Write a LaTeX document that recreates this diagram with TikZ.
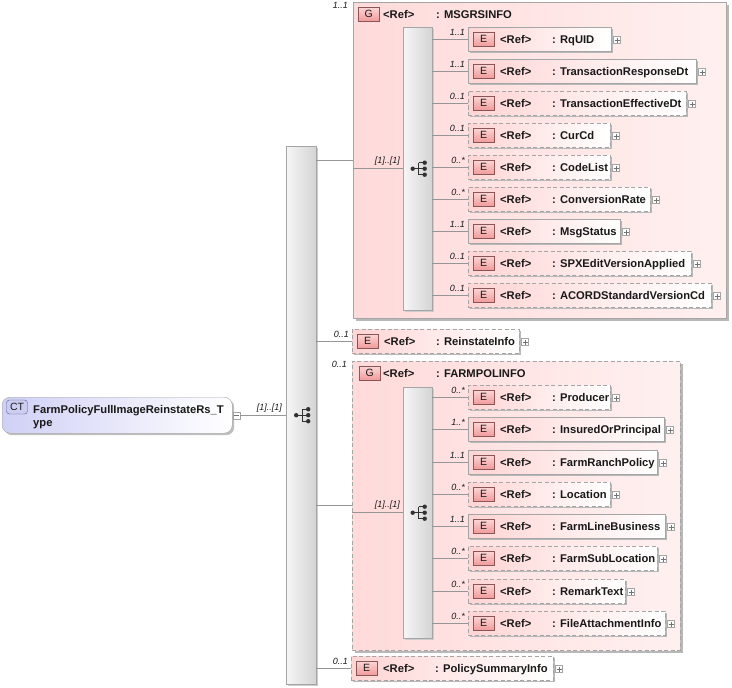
\documentclass[tikz,border=0pt]{standalone}
\usepackage{fontspec}
\setmainfont{Liberation Sans}
\usetikzlibrary{shadows}
\definecolor{pinkL}{RGB}{255,212,212}
\definecolor{pinkG}{RGB}{255,218,218}
\definecolor{pinkGR}{RGB}{255,240,240}
\definecolor{badgeT}{RGB}{253,215,215}
\definecolor{badgeB}{RGB}{240,155,155}
\definecolor{badgeD}{RGB}{140,85,85}
\definecolor{lineC}{RGB}{150,150,150}
\definecolor{boxC}{RGB}{165,165,165}
\definecolor{txtC}{RGB}{25,25,25}
\definecolor{ctL}{RGB}{208,208,246}
\definecolor{ctB}{RGB}{90,90,140}
\definecolor{ctBadge}{RGB}{205,205,242}
\definecolor{barL}{RGB}{246,246,246}
\definecolor{barR}{RGB}{212,212,212}
\definecolor{iconC}{RGB}{50,50,50}
\tikzset{
  every node/.style={font=\fontsize{11.2}{13}\selectfont\bfseries, text=txtC},
  txt/.style={inner sep=0, anchor=base west},
  elembox/.style={draw=boxC, left color=pinkL, right color=white, minimum height=24, inner sep=0,
    drop shadow={shadow xshift=2pt, shadow yshift=-2pt, fill=black!28, opacity=1}},
  grpbox/.style={draw=boxC, left color=pinkG, right color=pinkGR, inner sep=0,
    drop shadow={shadow xshift=3pt, shadow yshift=-3pt, fill=black!28, opacity=1}},
  optline/.style={dash pattern=on 4pt off 2.5pt},
  ebadge/.style={draw=badgeD, top color=badgeT, bottom color=badgeB, minimum width=21, minimum height=14,
    inner sep=0, font=\fontsize{10.5}{12}\selectfont, anchor=west},
  ctbox/.style={draw=boxC, left color=ctL, right color=white, rounded corners=8, inner sep=0,
    drop shadow={shadow xshift=2pt, shadow yshift=-2pt, fill=black!25, opacity=1}},
  ctbadge/.style={draw=ctB, fill=ctBadge, rounded corners=3, minimum width=21, minimum height=14,
    inner sep=0, font=\fontsize{10.5}{12}\selectfont},
  seqbar/.style={draw=boxC, left color=barL, right color=barR, inner sep=0, anchor=north west,
    drop shadow={shadow xshift=2pt, shadow yshift=-2pt, fill=black!20, opacity=1}},
  conn/.style={draw=lineC, line width=0.8pt},
  cardlbl/.style={font=\fontsize{9}{10}\selectfont\itshape, inner sep=0, anchor=south east},
  plusbox/.style={draw=boxC, fill=white, minimum size=7, inner sep=0, anchor=west},
  plusmark/.style={draw=black!55, line width=0.5pt},
  icon/.style={draw=iconC, line width=1pt},
}
% id, left, right, cy, name, line style, card, parent sequence
\newcommand{\elemrow}[8]{%
  \node[elembox,#6,minimum width={#3-#2},anchor=west] (#1) at (#2,#4) {};
  \draw[conn] (#8.east |- #1.west) -- (#1.west);
  \node[ebadge] (#1-b) at ([xshift=5pt]#1.west) {E};
  \node[txt] (#1-r) at ([xshift=32pt,yshift=-4pt]#1.west) {<Ref>};
  \node[txt] (#1-n) at ([xshift=84pt,yshift=-4pt]#1.west) {: #5};
  \node[plusbox] (#1-p) at ([xshift=2pt,yshift=-1pt]#1.east) {};
  \draw[plusmark] ([xshift=-2.5pt]#1-p.center) -- ([xshift=2.5pt]#1-p.center)
                  ([yshift=-2.5pt]#1-p.center) -- ([yshift=2.5pt]#1-p.center);
  \node[cardlbl] (#1-c) at ([xshift=-3pt,yshift=3pt]#1.west) {#7};
}
\newcommand{\seqicon}[1]{%
  \draw[icon] ([xshift=-5pt]#1.center) -- ([xshift=1pt]#1.center)
    ([xshift=1pt,yshift=6pt]#1.center) -- ([xshift=1pt,yshift=-6pt]#1.center)
    ([xshift=1pt,yshift=6pt]#1.center) -- ([xshift=7pt,yshift=6pt]#1.center)
    ([xshift=1pt]#1.center) -- ([xshift=7pt]#1.center)
    ([xshift=1pt,yshift=-6pt]#1.center) -- ([xshift=7pt,yshift=-6pt]#1.center);
  \fill[iconC] ([xshift=-5pt]#1.center) circle (2.2pt)
    ([xshift=7pt,yshift=6pt]#1.center) circle (2.2pt)
    ([xshift=7pt]#1.center) circle (2.2pt)
    ([xshift=7pt,yshift=-6pt]#1.center) circle (2.2pt);
}
\begin{document}
\begin{tikzpicture}[x=1pt,y=-1pt]
\useasboundingbox (0,0) rectangle (732,688);

% groups
\node[grpbox, minimum width=373, minimum height=316, anchor=north west] (g1) at (353,2) {};
\node[grpbox, optline, minimum width=328, minimum height=289, anchor=north west] (g2) at (352,361) {};

% main sequence and CT
\node[seqbar, minimum width=30, minimum height=538] (main) at (286,146) {};
\seqicon{main}
\node[ctbox, minimum width=230, minimum height=36, anchor=north west] (ct) at (2,397) {};
\node[ctbadge] (ctb) at (17,407) {CT};
\node[txt] (ctt1) at (33,413) {FarmPolicyFullImageReinstateRs\_T};
\node[txt] (ctt2) at (33,426) {ype};
\node[plusbox] (ctm) at (233,415.5) {};
\draw[plusmark] ([xshift=-2.5pt]ctm.center) -- ([xshift=2.5pt]ctm.center);
\draw[conn] (ctm.east) -- (main.west |- ctm.east);
\node[cardlbl] (mainc) at ([xshift=-4pt,yshift=3pt]main.west) {[1]..[1]};

% group 1 header
\node[ebadge] (g1b) at (358,14) {G};
\node[txt] (g1r) at (383,18) {<Ref>};
\node[txt] (g1n) at (436,18) {: MSGRSINFO};
\node[cardlbl] (g1c) at ([xshift=-5pt,yshift=-7pt]g1.north west) {1..1};
\draw[conn] (main.east |- g1.west) -- (g1.west);
\node[seqbar, minimum width=29, minimum height=283] (sq1) at (403,27) {};
\seqicon{sq1}
\draw[conn] (g1.west |- sq1.west) -- (sq1.west);
\node[cardlbl] (sq1c) at ([xshift=-3pt,yshift=3pt]sq1.west) {[1]..[1]};

\elemrow{e1}{468}{611}{39}{RqUID}{solid}{1..1}{sq1}
\elemrow{e2}{468}{696}{71}{TransactionResponseDt}{solid}{1..1}{sq1}
\elemrow{e3}{468}{686}{103}{TransactionEffectiveDt}{optline}{0..1}{sq1}
\elemrow{e4}{468}{610}{135}{CurCd}{optline}{0..1}{sq1}
\elemrow{e5}{468}{610}{167}{CodeList}{optline}{0..*}{sq1}
\elemrow{e6}{468}{650}{199}{ConversionRate}{optline}{0..*}{sq1}
\elemrow{e7}{468}{620}{231}{MsgStatus}{solid}{1..1}{sq1}
\elemrow{e8}{468}{691}{263}{SPXEditVersionApplied}{optline}{0..1}{sq1}
\elemrow{e9}{468}{711}{295}{ACORDStandardVersionCd}{optline}{0..1}{sq1}

% ReinstateInfo
\elemrow{ri}{352}{519}{341}{ReinstateInfo}{optline}{0..1}{main}

% group 2
\node[ebadge] (g2b) at (359,373) {G};
\node[txt] (g2r) at (383,377) {<Ref>};
\node[txt] (g2n) at (436,377) {: FARMPOLINFO};
\node[cardlbl] (g2c) at ([xshift=-5pt,yshift=-7pt]g2.north west) {0..1};
\draw[conn] (main.east |- g2.west) -- (g2.west);
\node[seqbar, minimum width=29, minimum height=251] (sq2) at (403,387) {};
\seqicon{sq2}
\draw[conn] (g2.west |- sq2.west) -- (sq2.west);
\node[cardlbl] (sq2c) at ([xshift=-3pt,yshift=3pt]sq2.west) {[1]..[1]};

\elemrow{f1}{468}{610}{397}{Producer}{optline}{0..*}{sq2}
\elemrow{f2}{468}{664}{429}{InsuredOrPrincipal}{solid}{1..*}{sq2}
\elemrow{f3}{468}{657}{462}{FarmRanchPolicy}{solid}{1..1}{sq2}
\elemrow{f4}{468}{610}{494}{Location}{optline}{0..*}{sq2}
\elemrow{f5}{468}{665}{526}{FarmLineBusiness}{solid}{1..1}{sq2}
\elemrow{f6}{468}{657}{558}{FarmSubLocation}{optline}{0..*}{sq2}
\elemrow{f7}{468}{625}{591}{RemarkText}{optline}{0..*}{sq2}
\elemrow{f8}{468}{665}{623}{FileAttachmentInfo}{optline}{0..*}{sq2}

% PolicySummaryInfo
\elemrow{ps}{351}{553}{668}{PolicySummaryInfo}{optline}{0..1}{main}
\end{tikzpicture}
\end{document}
